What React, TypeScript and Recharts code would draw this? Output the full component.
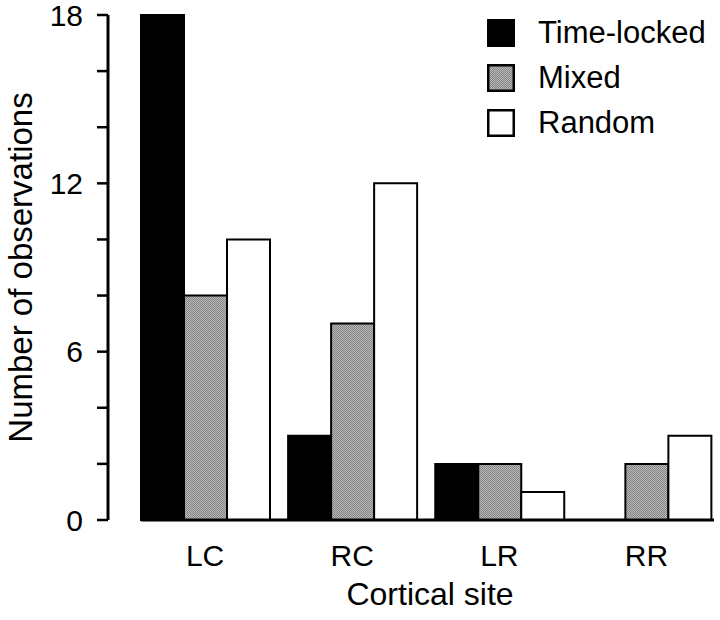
import React from 'react';
import { BarChart, Bar, XAxis, YAxis, Label } from 'recharts';

const FONT = '"Liberation Sans", Arial, Helvetica, sans-serif';

const sites = ['LC', 'RC', 'LR', 'RR'];
const timeLocked = [18, 3, 2, 0];
const mixed = [8, 7, 2, 2];
const random = [10, 12, 1, 3];
const yTicks = [0, 2, 4, 6, 8, 10, 12, 14, 16, 18];
const labelledTicks = [0, 6, 12, 18];

const series = [
  { key: 'timeLocked', name: 'Time-locked', fill: '#000000' },
  { key: 'mixed', name: 'Mixed', fill: 'url(#stipple)' },
  { key: 'random', name: 'Random', fill: '#ffffff' },
];

const data = sites.map((site, i) => ({
  site,
  timeLocked: timeLocked[i],
  mixed: mixed[i],
  random: random[i],
}));

// fine dotted grey like the printed figure
const Stipple = ({ id }: { id: string }) => (
  <pattern id={id} width={2} height={2} patternUnits="userSpaceOnUse">
    <rect width={2} height={2} fill="#b8b8b8" />
    <rect x={0} y={0} width={1} height={1} fill="#858585" />
    <rect x={1} y={1} width={1} height={1} fill="#858585" />
  </pattern>
);

// legend sits over the plot, top right, without taking room from it
const LegendBox = () => (
  <div
    style={{
      position: 'absolute',
      left: 487,
      top: 10,
      fontFamily: FONT,
      fontSize: 31,
      color: '#000',
    }}
  >
    {series.map((s) => (
      <div key={s.key} style={{ display: 'flex', alignItems: 'center', height: 45 }}>
        <svg width={28} height={28} style={{ marginRight: 23, flex: 'none' }}>
          <defs>
            <Stipple id="stippleLegend" />
          </defs>
          <rect
            x={1.25}
            y={1.25}
            width={25.5}
            height={25.5}
            fill={s.key === 'mixed' ? 'url(#stippleLegend)' : s.fill}
            stroke="#000"
            strokeWidth={2.5}
          />
        </svg>
        <span style={{ lineHeight: '45px', whiteSpace: 'nowrap' }}>{s.name}</span>
      </div>
    ))}
  </div>
);

export default function App() {
  return (
    <div style={{ position: 'absolute', left: 0, top: 0, width: 720, height: 620, background: '#fff' }}>
      <BarChart
        width={720}
        height={620}
        data={data}
        margin={{ top: 15, right: 0, bottom: 0, left: 0 }}
        barGap={0}
        barCategoryGap={9.5}
      >
        <defs>
          <Stipple id="stipple" />
        </defs>
        <XAxis
          dataKey="site"
          height={100}
          padding={{ left: 23.5, right: 0 }}
          interval={0}
          tickLine={false}
          tickSize={0}
          tickMargin={25}
          axisLine={{ stroke: '#000', strokeWidth: 3, strokeDasharray: '0 33 573 100' }}
          tick={{ fill: '#000', fontSize: 30, fontFamily: FONT }}
        >
          <Label
            value="Cortical site"
            position="insideBottom"
            offset={15}
            dx={16}
            style={{ fontSize: 32, fontFamily: FONT, fill: '#000' }}
          />
        </XAxis>
        <YAxis
          width={108}
          domain={[0, 18]}
          ticks={yTicks}
          interval={0}
          tickFormatter={(v: number) => (labelledTicks.includes(v) ? String(v) : '')}
          tickSize={11}
          tickMargin={14}
          axisLine={{ stroke: '#000', strokeWidth: 3 }}
          tickLine={{ stroke: '#000', strokeWidth: 2.5 }}
          tick={{ fill: '#000', fontSize: 30, fontFamily: FONT }}
        >
          <Label
            value="Number of observations"
            angle={-90}
            position="insideLeft"
            offset={20}
            style={{ textAnchor: 'middle', fontSize: 33, fontFamily: FONT, fill: '#000' }}
          />
        </YAxis>
        {series.map((s) => (
          <Bar
            key={s.key}
            dataKey={s.key}
            name={s.name}
            fill={s.fill}
            stroke="#000"
            strokeWidth={2}
            isAnimationActive={false}
          />
        ))}
      </BarChart>
      <LegendBox />
    </div>
  );
}
